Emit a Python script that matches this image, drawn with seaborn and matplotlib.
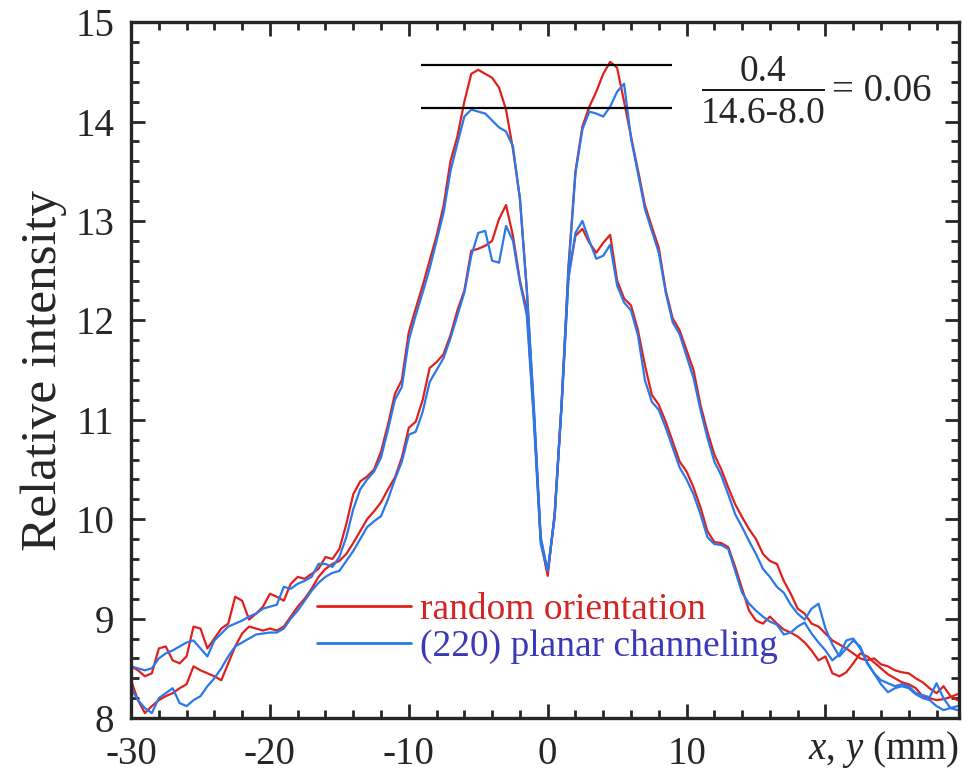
import matplotlib
matplotlib.use("Agg")
import matplotlib.pyplot as plt
from matplotlib.lines import Line2D
import numpy as np
import pandas as pd
import seaborn as sns

# scan position (mm), 0.5 mm bins
pos = np.arange(-30, 30, 0.5)

# random orientation, outer (higher) profile
random_outer = [
    8.52, 8.48, 8.42, 8.45, 8.70, 8.72, 8.58, 8.55, 8.62, 8.92, 8.90, 8.70, 8.80, 8.90, 8.95,
    9.22, 9.18, 8.99, 9.05, 9.12, 9.25, 9.22, 9.18, 9.35, 9.42, 9.40, 9.45, 9.50, 9.62, 9.60,
    9.70, 9.95, 10.25, 10.38, 10.43, 10.50, 10.68, 10.95, 11.26, 11.40, 11.88, 12.12, 12.35, 12.60, 12.85,
    13.15, 13.60, 13.85, 14.20, 14.48, 14.52, 14.48, 14.44, 14.34, 14.12, 13.72, 13.23, 12.30, 11.10, 9.80,
    9.45, 10.05, 11.17, 12.55, 13.50, 13.95, 14.15, 14.30, 14.48, 14.60, 14.54, 14.20, 13.85, 13.51, 13.16,
    12.94, 12.73, 12.30, 12.02, 11.90, 11.70, 11.50, 11.15, 10.88, 10.65, 10.50, 10.32, 10.15, 10.02, 9.90,
    9.80, 9.65, 9.58, 9.55, 9.38, 9.25, 9.10, 9.05, 8.95, 8.92, 8.85, 8.78, 8.74, 8.70, 8.65,
    8.60, 8.58, 8.60, 8.54, 8.52, 8.48, 8.46, 8.45, 8.40, 8.36, 8.30, 8.25, 8.32, 8.22, 8.18,
]
# (220) planar channeling, outer profile
channel_outer = [
    8.52, 8.50, 8.48, 8.50, 8.60, 8.65, 8.68, 8.72, 8.76, 8.78, 8.70, 8.62, 8.78, 8.85, 8.92,
    8.95, 8.98, 9.02, 9.05, 9.10, 9.12, 9.14, 9.32, 9.30, 9.35, 9.38, 9.42, 9.55, 9.55, 9.52,
    9.62, 9.82, 10.10, 10.30, 10.40, 10.48, 10.62, 10.90, 11.20, 11.33, 11.80, 12.05, 12.28, 12.52, 12.80,
    13.08, 13.50, 13.78, 14.05, 14.12, 14.10, 14.08, 14.01, 13.94, 13.90, 13.75, 13.22, 12.30, 11.15, 9.82,
    9.48, 10.02, 11.15, 12.52, 13.48, 13.92, 14.10, 14.08, 14.05, 14.15, 14.30, 14.38, 13.83, 13.48, 13.12,
    12.90, 12.68, 12.28, 11.98, 11.86, 11.64, 11.42, 11.10, 10.82, 10.58, 10.44, 10.25, 10.05, 9.92, 9.78,
    9.65, 9.50, 9.42, 9.32, 9.26, 9.14, 9.05, 8.99, 9.10, 9.15, 8.90, 8.74, 8.62, 8.70, 8.78,
    8.72, 8.55, 8.45, 8.38, 8.35, 8.32, 8.34, 8.32, 8.25, 8.23, 8.21, 8.35, 8.20, 8.10, 8.08,
]
# random orientation, inner (lower) profile
random_inner = [
    8.38, 8.18, 8.05, 8.12, 8.18, 8.22, 8.25, 8.30, 8.34, 8.52, 8.48, 8.45, 8.42, 8.38, 8.55,
    8.72, 8.85, 8.92, 8.90, 8.88, 8.90, 8.88, 8.92, 9.02, 9.12, 9.20, 9.30, 9.42, 9.50, 9.55,
    9.58, 9.65, 9.76, 9.88, 10.00, 10.08, 10.17, 10.30, 10.42, 10.62, 10.92, 10.98, 11.20, 11.52, 11.58,
    11.66, 11.85, 12.10, 12.30, 12.70, 12.72, 12.75, 12.80, 13.02, 13.16, 12.85, 12.40, 12.10, 11.05, 9.78,
    9.43, 10.05, 11.15, 12.45, 12.85, 12.92, 12.78, 12.68, 12.78, 12.86, 12.40, 12.22, 12.15, 11.90, 11.55,
    11.25, 11.15, 10.98, 10.78, 10.58, 10.48, 10.32, 10.12, 9.88, 9.77, 9.76, 9.72, 9.52, 9.30, 9.08,
    8.98, 8.95, 9.02, 8.95, 8.89, 8.86, 8.82, 8.76, 8.68, 8.58, 8.62, 8.45, 8.42, 8.46, 8.55,
    8.65, 8.62, 8.56, 8.50, 8.44, 8.40, 8.36, 8.34, 8.30, 8.22, 8.20, 8.18, 8.19, 8.21, 8.24,
]
# (220) planar channeling, inner profile
channel_inner = [
    8.30, 8.18, 8.10, 8.05, 8.20, 8.25, 8.30, 8.15, 8.12, 8.18, 8.22, 8.32, 8.40, 8.50, 8.62,
    8.72, 8.76, 8.80, 8.84, 8.85, 8.86, 8.86, 8.90, 9.00, 9.08, 9.18, 9.28, 9.36, 9.42, 9.46,
    9.48, 9.58, 9.68, 9.80, 9.92, 9.98, 10.03, 10.20, 10.40, 10.58, 10.85, 10.88, 11.08, 11.38, 11.50,
    11.62, 11.82, 12.05, 12.28, 12.65, 12.88, 12.90, 12.60, 12.58, 12.95, 12.80, 12.38, 12.05, 11.00, 9.75,
    9.48, 10.02, 11.12, 12.42, 12.88, 13.00, 12.80, 12.62, 12.65, 12.76, 12.35, 12.18, 12.10, 11.85, 11.40,
    11.18, 11.10, 10.92, 10.72, 10.52, 10.40, 10.25, 10.05, 9.82, 9.75, 9.74, 9.70, 9.48, 9.26, 9.15,
    9.08, 9.02, 8.97, 8.94, 8.84, 8.86, 8.92, 8.96, 8.85, 8.76, 8.68, 8.58, 8.64, 8.78, 8.80,
    8.70, 8.56, 8.45, 8.34, 8.26, 8.30, 8.32, 8.30, 8.24, 8.20, 8.18, 8.12, 8.08, 8.10, 8.12,
]

labels = ["random orientation", "(220) planar channeling"]
ref_levels = [14.57, 14.14]
ref_span = [-9.1, 8.95]
xtick_labels = ["-30", "-20", "-10", "0", "10", ""]

red = "#e0201c"
blue = "#2a78ea"

df = pd.concat([
    pd.DataFrame({"x": pos, "I": random_outer, "kind": labels[0], "scan": "outer"}),
    pd.DataFrame({"x": pos, "I": random_inner, "kind": labels[0], "scan": "inner"}),
    pd.DataFrame({"x": pos, "I": channel_outer, "kind": labels[1], "scan": "outer"}),
    pd.DataFrame({"x": pos, "I": channel_inner, "kind": labels[1], "scan": "inner"}),
])

sns.set_style("ticks")
plt.rcParams["font.family"] = ["Liberation Serif", "DejaVu Serif"]
plt.rcParams["mathtext.fontset"] = "custom"
plt.rcParams["mathtext.rm"] = "Liberation Serif"
plt.rcParams["mathtext.it"] = "Liberation Serif:italic"
plt.rcParams["axes.unicode_minus"] = False

fig = plt.figure(figsize=(9.67, 7.75), dpi=100)
ax = fig.add_axes([0.1355, 0.0735, 0.856, 0.898])

sns.lineplot(data=df, x="x", y="I", hue="kind", units="scan", estimator=None,
             palette={labels[0]: red, labels[1]: blue},
             lw=1.6, legend=False, ax=ax)

ax.hlines(ref_levels, ref_span[0], ref_span[1], color="black", lw=1.6)

# ratio annotation
ax.text(15.5, 14.50, "0.4", ha="center", va="center", fontsize=27)
ax.hlines([14.32], 11.1, 20.0, color="black", lw=1.3)
ax.text(15.5, 14.08, "14.6-8.0", ha="center", va="center", fontsize=27)
ax.text(20.5, 14.30, "= 0.06", ha="left", va="center", fontsize=28)

ax.set_xlim(-30, 29.6)
ax.set_ylim(8, 15)
ax.set_xticks([-30, -20, -10, 0, 10, 20])
ax.set_xticklabels(xtick_labels)
ax.set_xticks(np.arange(-30, 30, 2), minor=True)
ax.set_yticks(range(8, 16))
ax.set_yticks(np.arange(8, 15.01, 0.2), minor=True)
ax.tick_params(which="both", direction="in", top=True, right=True, width=2, labelsize=28)
ax.tick_params(axis="x", pad=13)
ax.tick_params(axis="y", pad=12)
ax.tick_params(which="major", length=10)
ax.tick_params(which="minor", length=6)
for s in ax.spines.values():
    s.set_linewidth(2.4)

ax.set_xlabel("")
ax.set_ylabel("Relative intensity", fontsize=37, labelpad=6)
ax.text(1.0, -0.016, r"$x$, $y$ (mm)", transform=ax.transAxes, ha="right", va="top", fontsize=28)

handles = [Line2D([], [], color=red, lw=2), Line2D([], [], color=blue, lw=2)]
leg = ax.legend(handles, labels, loc="upper left", bbox_to_anchor=(0.225, 0.18), frameon=False,
                fontsize=27, handlelength=2.5, handletextpad=0.25, labelspacing=0.05,
                borderpad=0, borderaxespad=0)
for t, c in zip(leg.get_texts(), ["#d42424", "#3a3ab8"]):
    t.set_color(c)

fig.savefig("out.png", dpi=100)
